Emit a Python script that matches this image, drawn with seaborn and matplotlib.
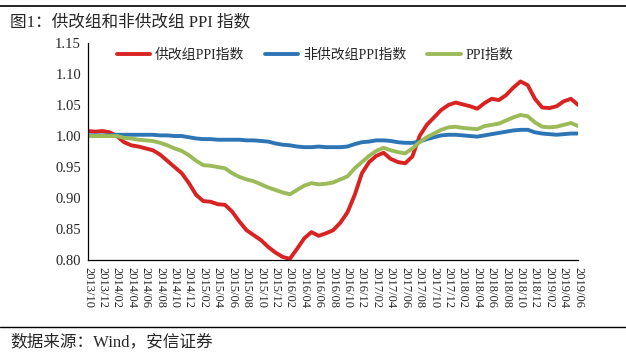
import matplotlib
matplotlib.use("Agg")
import matplotlib.pyplot as plt
from matplotlib.lines import Line2D
import numpy as np
import pandas as pd
import seaborn as sns

# 月度数据 2013/10 - 2019/06
months = pd.date_range("2013-10-01", "2019-06-01", freq="MS").strftime("%Y/%m").tolist()

supply_reform = [1.008, 1.007, 1.008, 1.006, 1.000, 0.990, 0.985, 0.983, 0.980, 0.977,
                 0.970, 0.960, 0.950, 0.940, 0.924, 0.905, 0.895, 0.894, 0.890, 0.889,
                 0.878, 0.862, 0.848, 0.840, 0.832, 0.821, 0.812, 0.805, 0.802, 0.818,
                 0.835, 0.845, 0.839, 0.843, 0.848, 0.860, 0.877, 0.905, 0.940, 0.958,
                 0.968, 0.973, 0.963, 0.958, 0.956, 0.967, 1.000, 1.018, 1.030, 1.042,
                 1.050, 1.054, 1.051, 1.048, 1.044, 1.053, 1.060, 1.058, 1.066, 1.078,
                 1.088, 1.082, 1.060, 1.046, 1.045, 1.048, 1.056, 1.060, 1.050]

non_reform = [1.001, 1.001, 1.001, 1.001, 1.002, 1.002, 1.002, 1.002, 1.002, 1.002,
              1.001, 1.001, 1.000, 1.000, 0.998, 0.996, 0.995, 0.995, 0.994, 0.994,
              0.994, 0.994, 0.993, 0.993, 0.992, 0.991, 0.988, 0.986, 0.985, 0.983,
              0.982, 0.982, 0.983, 0.982, 0.982, 0.982, 0.983, 0.987, 0.990, 0.991,
              0.993, 0.993, 0.992, 0.990, 0.989, 0.989, 0.991, 0.995, 0.998, 1.001,
              1.002, 1.002, 1.001, 1.000, 0.999, 1.001, 1.003, 1.005, 1.007, 1.009,
              1.010, 1.010, 1.006, 1.004, 1.003, 1.002, 1.003, 1.004, 1.004]

ppi = [1.000, 1.000, 1.000, 1.000, 1.000, 0.997, 0.996, 0.994, 0.993, 0.992,
       0.989, 0.985, 0.980, 0.976, 0.969, 0.960, 0.953, 0.952, 0.950, 0.948,
       0.940, 0.934, 0.930, 0.927, 0.922, 0.917, 0.913, 0.909, 0.906, 0.913,
       0.920, 0.924, 0.922, 0.923, 0.925, 0.930, 0.935, 0.948, 0.958, 0.968,
       0.976, 0.981, 0.977, 0.974, 0.972, 0.980, 0.990, 0.998, 1.004, 1.010,
       1.014, 1.015, 1.013, 1.012, 1.011, 1.016, 1.018, 1.020, 1.025, 1.030,
       1.034, 1.032, 1.022, 1.015, 1.014, 1.015, 1.018, 1.021, 1.016]

labels = ["供改组PPI指数", "非供改组PPI指数", "PPI指数"]
colors = ["#d92222", "#2e75b6", "#9bbb59"]

sns.set_style("white")
plt.rcParams["font.family"] = ["Liberation Serif", "Noto Sans CJK SC", "DejaVu Sans"]

x = np.arange(len(months))
fig = plt.figure(figsize=(6.26, 3.54), dpi=100)
ax = fig.add_axes([0.1406, 0.2655, 0.783, 0.613])

for vals, lab, c in zip([supply_reform, non_reform, ppi], labels, colors):
    sns.lineplot(x=x, y=vals, ax=ax, color=c, linewidth=2.8, label=lab)

ax.set_xlim(0, len(months) - 1)
ax.set_ylim(0.80, 1.15)
ax.set_yticks(np.arange(0.80, 1.151, 0.05))
ax.set_yticklabels([f"{v:.2f}" for v in np.arange(0.80, 1.151, 0.05)], fontsize=10.5)
ax.set_xticks(x[::2])
ax.set_xticklabels(months[::2], rotation=-90, fontsize=9)
ax.tick_params(axis="both", direction="out", length=3, width=0.8, color="black", pad=2)
for s in ["top", "right"]:
    ax.spines[s].set_visible(False)
for s in ["left", "bottom"]:
    ax.spines[s].set_color("black")
    ax.spines[s].set_linewidth(0.9)

ax.legend(loc="upper center", bbox_to_anchor=(0.463, 1.03), ncol=3, frameon=False,
          fontsize=10, handlelength=2.4, columnspacing=1.5, handletextpad=0.35)

fig.text(0.016, 0.937, "图1：供改组和非供改组 PPI 指数", fontsize=12, va="center")
fig.text(0.016, 0.033, "数据来源：Wind，安信证券", fontsize=12, va="center")
fig.add_artist(Line2D([0, 1], [0.983, 0.983], color="black", linewidth=1.2))
fig.add_artist(Line2D([0, 1], [0.076, 0.076], color="black", linewidth=1.0))

fig.savefig("out.png", dpi=100)
